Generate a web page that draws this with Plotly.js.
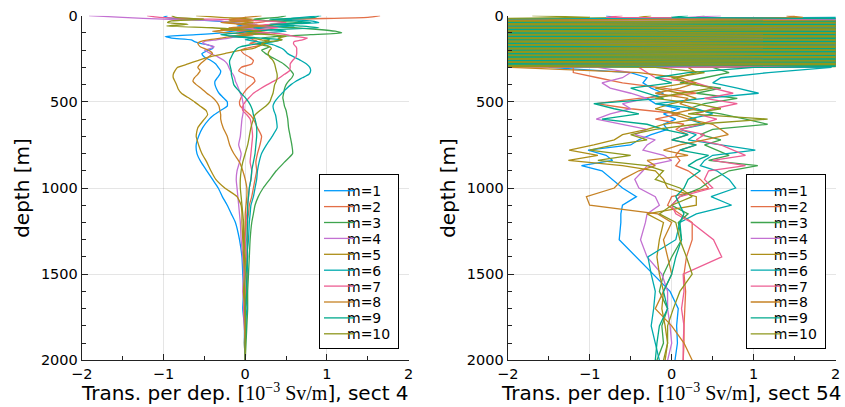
<!DOCTYPE html>
<html><head><meta charset="utf-8">
<script src="https://cdn.plot.ly/plotly-3.0.1.min.js"></script>
<style>html,body{margin:0;padding:0;background:#fff}</style>
</head><body>
<div id="chart" style="width:845px;height:407px"></div>
<script>
const seriesNames = ['m=1','m=2','m=3','m=4','m=5','m=6','m=7','m=8','m=9','m=10'];
const colors = ['#009AFA','#E36F47','#3EA44E','#C371D2','#AC8E18','#00AAAE','#ED5E93','#C68225','#00A98D','#8E971D'];
const xTickVals = [-2,-1,0,1,2];
const yTickVals = [0,500,1000,1500,2000];

// ---- section 4 (left panel) ----
const leftDepth = [0,10,20,30,40,50,60,70,80,90,100,110,120,130,140,150,160,170,180,190,200,
  220,240,260,280,300,320,340,360,380,400,
  425,450,475,500,525,550,575,600,
  650,700,750,800,850,900,950,1000,1050,1100,1150,1200,
  1300,1400,1500,1600,1700,1800,1900,2000];
const left_m1 = [-0.95,-1.0,-0.7,-0.4,-0.15,0.05,-0.1,0.2,0.05,-0.15,-0.3,-0.6,-0.98,-0.9,-0.66,-0.62,-0.55,-0.45,-0.39,-0.4,-0.45, -0.53,-0.5,-0.42,-0.36,-0.33,-0.3,-0.31,-0.34,-0.37,-0.37, -0.35,-0.32,-0.27,-0.22,-0.22,-0.3,-0.38,-0.44, -0.52,-0.57,-0.6,-0.59,-0.54,-0.47,-0.4,-0.33,-0.28,-0.22,-0.17,-0.12, -0.07,-0.04,-0.03,-0.02,-0.03,-0.01,-0.01,0.0];
const left_m2 = [1.65,1.5,0.6,0.3,0.15,-0.1,0.35,0.2,-0.2,0.1,0.25,0.0,-0.2,0.05,0.1,0.15,0.05,0.2,0.1,0.0,-0.05, -0.02,0.05,0.1,0.08,-0.05,-0.08,0.0,0.1,0.12,0.08, 0.02,-0.02,-0.05,-0.07,-0.06,0.0,0.06,0.1, 0.15,0.2,0.18,0.15,0.13,0.14,0.12,0.1,0.08,0.05,0.04,0.02, 0.03,0.02,0.03,0.02,0.0,0.01,0.0,0.0];
const left_m3 = [0.5,0.4,0.1,0.3,0.7,0.5,0.2,0.6,0.9,1.1,1.18,0.8,0.4,0.2,0.3,0.25,0.15,0.2,0.3,0.25,0.2, 0.25,0.32,0.4,0.47,0.52,0.56,0.59,0.57,0.53,0.5, 0.48,0.47,0.46,0.47,0.48,0.5,0.51,0.52, 0.53,0.55,0.57,0.58,0.48,0.38,0.3,0.22,0.16,0.12,0.1,0.08, 0.06,0.05,0.04,0.03,0.03,0.02,0.01,0.0];
const left_m4 = [-1.91,-1.5,-1.0,-0.3,-0.2,0.15,0.0,-0.1,0.2,0.05,-0.05,0.1,-0.1,-0.2,-0.35,-0.5,-0.52,-0.45,-0.38,-0.42,-0.5, -0.42,-0.33,-0.26,-0.22,-0.2,-0.18,-0.15,-0.13,-0.12,-0.1, -0.08,-0.06,-0.04,-0.03,-0.02,-0.02,-0.03,-0.04, -0.05,-0.06,-0.08,-0.05,-0.07,-0.1,-0.11,-0.1,-0.09,-0.08,-0.07,-0.06, -0.05,-0.03,-0.02,-0.03,-0.01,-0.01,0.0,0.0];
const left_m5 = [-0.6,-0.3,0.1,-0.2,0.1,-0.1,0.2,0.0,-0.3,0.1,0.3,0.05,-0.1,0.1,0.2,0.3,0.25,0.2,0.15,0.1,-0.05, -0.25,-0.45,-0.58,-0.7,-0.83,-0.86,-0.88,-0.88,-0.86,-0.84, -0.82,-0.78,-0.7,-0.62,-0.55,-0.48,-0.46,-0.5, -0.58,-0.6,-0.57,-0.53,-0.47,-0.42,-0.36,-0.25,-0.1,-0.05,-0.04,-0.04, -0.03,-0.02,-0.01,-0.02,-0.01,0.0,-0.01,0.0];
const left_m6 = [0.93,0.7,0.5,0.8,0.9,0.4,0.6,0.1,0.3,0.5,0.2,0.0,-0.2,0.1,0.0,0.15,0.25,0.35,0.4,0.45,0.48, 0.52,0.6,0.68,0.75,0.79,0.8,0.78,0.7,0.62,0.56, 0.5,0.45,0.4,0.36,0.34,0.35,0.37,0.38, 0.39,0.33,0.26,0.2,0.17,0.15,0.14,0.12,0.1,0.07,0.06,0.05, 0.04,0.02,0.03,0.01,0.02,0.0,0.0,0.0];
const left_m7 = [-1.2,-1.05,-0.4,0.2,0.5,0.3,0.1,0.4,0.2,-0.1,0.3,0.5,0.6,0.76,0.7,0.6,0.59,0.6,0.62,0.63,0.63, 0.63,0.62,0.58,0.55,0.55,0.54,0.48,0.42,0.35,0.27, 0.18,0.1,0.05,0.0,-0.03,-0.03,0.02,0.06, 0.08,0.09,0.08,0.07,0.06,0.08,0.07,0.05,0.04,0.03,0.02,0.01, 0.0,0.01,-0.01,0.0,-0.02,-0.01,0.0,0.0];
const left_m8 = [0.2,0.0,-0.2,0.1,-0.3,-0.05,0.25,-0.2,-0.1,-0.4,-0.2,0.1,-0.15,-0.3,-0.45,-0.55,-0.58,-0.57,-0.55,-0.5,-0.45, -0.4,-0.45,-0.5,-0.55,-0.58,-0.55,-0.58,-0.62,-0.64,-0.6, -0.53,-0.47,-0.4,-0.35,-0.32,-0.31,-0.3,-0.3, -0.27,-0.22,-0.19,-0.14,-0.07,-0.03,0.0,0.02,0.02,0.01,0.0,0.0, -0.01,0.0,0.02,0.01,0.0,0.0,0.0,0.0];
const left_m9 = [0.9,0.85,0.3,0.6,0.8,0.3,0.7,0.9,0.4,0.1,-0.1,-0.3,-0.1,0.2,0.45,0.35,0.2,0.05,-0.05,-0.1,-0.12, -0.15,-0.17,-0.19,-0.19,-0.18,-0.17,-0.17,-0.16,-0.15,-0.14, -0.1,-0.05,0.0,0.04,0.07,0.09,0.1,0.12, 0.14,0.14,0.13,0.12,0.1,0.08,0.07,0.05,0.04,0.03,0.03,0.03, 0.02,0.03,0.01,0.02,0.0,0.01,0.0,0.0];
const left_m10 = [-0.9,-0.85,-0.5,-0.9,-0.95,-0.7,-0.96,-0.4,-0.1,0.2,0.0,0.3,0.5,0.4,0.45,0.3,0.2,0.25,0.3,0.32,0.3, 0.28,0.3,0.34,0.36,0.37,0.38,0.39,0.39,0.38,0.36, 0.35,0.34,0.32,0.3,0.25,0.18,0.12,0.1, 0.07,0.05,0.03,0.0,-0.03,-0.05,-0.06,-0.06,-0.05,-0.04,-0.03,-0.02, -0.02,-0.01,0.0,-0.01,0.0,0.0,0.0,0.0];

// ---- section 54 (right panel) ----
const rightDepth = [0,10,20,30,40,50,60,70,80,90,100,110,120,130,140,150,160,170,180,190,200,210,220,230,240,250,260,270,280,290,300,
  330,360,390,420,450,480,510,540,570,600,630,660,690,720,750,780,810,840,870,900,
  950,1000,1050,1100,1150,1200,
  1300,1400,1500,1600,1700,1800,1900,2000];
const right_m1 = [-0.8,-0.7,1.2, 3.2,-2.9,4.1,-3.6,2.7,-4.4,3.8,-2.5,4.6,-3.1,2.9,-3.9,4.3,-2.7,3.5,-4.8,2.6,-3.3,4.0,-2.8,3.7,-4.2,2.5,-3.5,4.4,-2.6,3.0, -1.5, -0.5,-0.3,-0.35,-0.25,-0.1,-0.3,-0.2,0.1,-0.1,0.05,-0.1,-0.05,-0.25,-0.4,-0.5,-1.02,-0.8,-0.72,-1.1,-0.85, -0.73,-0.6,-0.43,-0.6,-0.62,-0.62, -0.64,-0.43,-0.22,-0.02,0.08,0.06,0.07,0.04];
const right_m2 = [1.5,1.4,-1.0, -2.7,3.9,-4.3,2.8,-3.2,4.5,-2.6,3.4,-4.1,2.9,-3.8,4.2,-2.5,3.6,-4.6,2.7,-3.0,4.4,-3.7,2.6,-4.0,3.3,-2.8,4.7,-3.4,2.5,-3.9, -1.2, -1.2,-0.9,-0.6,-0.1,0.3,-0.4,-0.92,-0.5,0.1,-0.2,0.15,0.05,0.2,0.0,0.3,0.1,0.05,0.1,0.05,0.2, 0.35,0.45,0.0,-0.05,0.1,0.25, 0.25,0.18,0.15,0.17,0.16,0.15,0.15,0.14];
const right_m3 = [0.4,0.3,-2.5, 4.4,-3.3,2.6,-4.0,3.5,-2.8,4.8,-3.6,2.7,-4.5,3.1,-2.6,3.9,-4.2,2.8,-3.4,4.1,-2.5,3.6,-4.7,2.9,-3.0,4.3,-2.7,3.8,-4.1,2.6, 0.5, 0.7,0.4,0.1,0.6,0.3,0.8,0.4,0.2,0.6,0.9,1.17,0.5,0.35,0.6,0.4,0.55,0.7,0.45,1.05,0.7, 0.5,0.35,0.1,0.0,0.2,0.08, 0.12,0.0,-0.1,-0.15,-0.05,-0.12,-0.1,-0.18];
const right_m4 = [0.6,0.2,2.5, -3.8,2.5,-3.1,4.6,-2.9,3.7,-4.2,2.6,-3.5,4.0,-2.7,3.3,-4.9,2.8,-3.6,4.1,-2.5,3.9,-3.0,4.5,-2.6,3.2,-4.3,2.9,-3.7,4.2,-2.8, -0.9, -0.5,-0.6,-0.85,-0.75,-0.5,-0.3,-0.6,-0.5,-0.75,-0.92,-0.6,-0.3,-0.45,-0.2,-0.3,-0.35,-0.1,0.0,-0.3,-0.35, -0.45,-0.4,-0.2,-0.15,-0.3,-0.32, -0.38,-0.3,-0.12,-0.05,-0.05,-0.02,0.0,-0.05];
const right_m5 = [-0.25,-0.4,-1.5, 2.6,-4.1,3.6,-2.7,4.3,-3.4,2.8,-4.6,3.1,-2.6,4.7,-3.2,2.5,-3.9,4.0,-2.9,3.5,-4.3,2.7,-3.6,4.4,-2.5,3.8,-4.0,2.6,-3.1,4.1, 0.2, 0.3,0.05,0.2,-0.2,0.1,0.3,0.0,-0.2,0.1,0.3,-0.1,-0.3,-0.6,-0.7,-0.95,-1.25,-0.9,-1.26,-0.6,-0.2, -0.1,-0.05,0.3,0.3,-0.3,-0.1, -0.15,-0.18,-0.15,-0.1,-0.12,-0.08,-0.05,-0.08];
const right_m6 = [2.1,2.2,-3.0, -4.5,3.0,-2.6,3.8,-4.1,2.7,-3.3,4.4,-2.8,3.6,-4.2,2.5,-3.7,4.8,-2.6,3.1,-4.4,2.9,-3.5,4.2,-2.7,3.9,-3.2,2.6,-4.6,3.4,-2.5, 1.95, 1.18,0.6,0.5,0.8,1.06,0.4,-0.2,0.3,0.5,0.2,0.4,0.1,0.3,0.2,0.6,1.02,0.5,0.4,0.35,0.55, 0.7,0.78,0.48,0.73,0.3,0.1, 0.05,-0.29,-0.25,-0.2,-0.22,-0.25,-0.2,-0.15];
const right_m7 = [-0.6,-0.8,3.0, 3.7,-2.6,4.5,-3.0,2.8,-3.9,4.2,-2.7,3.3,-4.4,2.6,-3.6,4.1,-2.9,3.8,-2.5,4.6,-3.4,2.7,-4.1,3.5,-2.8,4.0,-3.3,2.9,-4.5,3.6, -0.4, -0.3,-0.2,0.3,0.5,0.75,0.4,0.8,0.5,0.3,0.55,0.35,0.1,0.4,0.3,0.6,0.75,0.9,0.5,0.9,0.45, 0.4,0.5,0.1,0.0,0.05,0.24, 0.51,0.61,0.14,0.15,0.12,0.15,0.14,0.14];
const right_m8 = [1.4,1.6,0.5, -2.9,4.2,-3.5,2.6,-4.7,3.1,-2.8,4.0,-3.6,2.7,-3.0,4.6,-2.6,3.3,-4.0,2.8,-3.8,4.3,-2.5,3.4,-4.5,2.7,-3.1,4.1,-2.9,3.7,-4.2, -1.96, -0.4,0.1,0.3,0.1,-0.2,0.2,0.1,0.3,0.0,0.2,0.5,0.6,0.69,0.4,0.1,-0.1,0.2,-0.3,-0.2,-0.4, -0.6,-0.7,-1.04,-1.0,-0.17,0.0, -0.1,-0.05,0.0,-0.1,-0.2,0.0,0.15,0.25];
const right_m9 = [0.2,0.0,2.8, 4.0,-3.7,2.9,-2.6,4.4,-3.1,2.6,-4.3,3.7,-2.8,4.1,-2.5,3.4,-4.6,2.7,-3.5,4.2,-2.9,3.0,-4.0,2.8,-3.8,4.6,-2.6,3.2,-4.4,2.7, 1.0, 0.2,-0.2,0.0,-0.5,-0.3,-0.1,-0.95,-0.7,-0.4,-0.85,-0.3,-0.1,0.2,0.0,0.3,0.1,0.45,0.3,0.2,0.35, 0.2,0.15,0.05,0.1,0.15,0.1, 0.12,0.05,0.0,-0.1,-0.05,-0.15,-0.18,-0.2];
const right_m10 = [-1.7,-1.0,-2.8, -3.3,2.7,-4.6,3.5,-2.5,4.1,-3.8,2.9,-2.7,4.3,-3.4,2.6,-4.0,3.1,-2.8,4.5,-3.2,2.5,-4.2,3.8,-2.6,4.0,-3.6,2.8,-3.0,4.7,-2.9, -0.2, 0.4,0.0,0.2,0.5,0.1,-0.2,0.3,0.6,0.2,1.17,0.3,-0.2,-0.5,-0.3,-0.7,-1.0,-0.5,-0.9,-0.3,-0.1, -0.2,0.1,0.25,0.0,-0.15,0.05, 0.1,0.18,0.25,0.1,0.02,-0.05,-0.05,-0.1];

const leftSeries = [left_m1,left_m2,left_m3,left_m4,left_m5,left_m6,left_m7,left_m8,left_m9,left_m10];
const rightSeries = [right_m1,right_m2,right_m3,right_m4,right_m5,right_m6,right_m7,right_m8,right_m9,right_m10];

const traces = [];
leftSeries.forEach((vals, i) => traces.push({
  type: 'scatter', mode: 'lines', x: vals, y: leftDepth, name: seriesNames[i],
  line: {color: colors[i], width: 1.3, shape: 'spline', smoothing: 0.5},
  xaxis: 'x', yaxis: 'y', legend: 'legend'
}));
rightSeries.forEach((vals, i) => traces.push({
  type: 'scatter', mode: 'lines', x: vals, y: rightDepth, name: seriesNames[i],
  line: {color: colors[i], width: 1.3},
  xaxis: 'x2', yaxis: 'y2', legend: 'legend2'
}));

const FONT = 'DejaVu Sans, sans-serif';
const axisBase = {
  showline: true, linecolor: '#222', linewidth: 1,
  ticks: 'inside', ticklen: 6, tickcolor: '#222', tickwidth: 1,
  showgrid: true, gridcolor: 'rgba(0,0,0,0.1)', gridwidth: 1,
  zeroline: false, mirror: false,
  tickfont: {family: FONT, size: 14.5, color: '#000'}
};
const mathPart = '<span style="font-family:Liberation Serif, serif">10<sup>−3</sup> Sv/m</span>';
function xAxis(domain, anchor, sect) {
  return Object.assign({}, axisBase, {
    domain: domain, anchor: anchor, range: [-2, 2], tickmode: 'array', tickvals: xTickVals,
    minor: {tick0: 0, dtick: 0.5, ticks: 'inside', ticklen: 4, tickcolor: '#222', showgrid: false},
    title: {text: 'Trans. per dep. [' + mathPart + '], sect ' + sect, font: {family: FONT, size: 20, color: '#000'}}
  });
}
function yAxis(domain, anchor) {
  return Object.assign({}, axisBase, {
    domain: domain, anchor: anchor, range: [2000, 0], tickmode: 'array', tickvals: yTickVals,
    minor: {tick0: 0, dtick: 100, ticks: 'inside', ticklen: 4, tickcolor: '#222', showgrid: false},
    title: {text: 'depth [m]', font: {family: FONT, size: 20, color: '#000'}}
  });
}
const legendBase = {
  xanchor: 'left', yanchor: 'top', y: 1 - 174 / 407,
  bgcolor: '#fff', bordercolor: '#000', borderwidth: 1,
  font: {family: FONT, size: 14, color: '#000'}, itemwidth: 30
};
const yDom = [0.1147, 0.9614];
const layout = {
  width: 845, height: 407,
  margin: {l: 0, r: 0, t: 0, b: 0},
  paper_bgcolor: '#fff', plot_bgcolor: '#fff',
  font: {family: FONT, color: '#000'},
  xaxis: xAxis([0.0967, 0.4837], 'y', '4'),
  yaxis: yAxis(yDom, 'x'),
  xaxis2: xAxis([0.6008, 0.9890], 'y2', '54'),
  yaxis2: yAxis(yDom, 'x2'),
  legend: Object.assign({}, legendBase, {x: 319 / 845}),
  legend2: Object.assign({}, legendBase, {x: 745.7 / 845})
};

function nudge(el, dx, dy) {
  if (!el) return;
  if (!el.hasAttribute('data-orig-transform')) el.setAttribute('data-orig-transform', el.getAttribute('transform') || '');
  el.setAttribute('transform', (el.getAttribute('data-orig-transform') + ' translate(' + dx + ',' + dy + ')').trim());
}

// compact the legend entries (Plotly's minimum entry height is taller than the reference's)
// and nudge the axis titles to the reference's spacing
function finishLayout() {
  const gd = document.getElementById('chart');
  const ITEM_TOP = 16.7, ITEM_STEP = 15.9, BOX_H = 175, TEXT_X = 28;
  ['legend', 'legend2'].forEach(id => {
    const leg = gd.querySelector('g.' + id);
    if (!leg) return;
    const items = leg.querySelectorAll('g.traces');
    let maxRight = 0;
    items.forEach((it, i) => {
      it.setAttribute('transform', 'translate(0,' + (ITEM_TOP + i * ITEM_STEP) + ')');
      const pts = it.querySelector('g.legendpoints');
      if (pts) pts.setAttribute('transform', 'translate(0.7,0) scale(0.667,1)');
      const t = it.querySelector('text');
      if (t) {
        t.removeAttribute('transform');
        const bb = t.getBBox();
        t.setAttribute('transform', 'translate(' + (TEXT_X - bb.x) + ',0)');
        maxRight = Math.max(maxRight, TEXT_X + bb.width);
      }
      const toggle = it.querySelector('rect.legendtoggle');
      if (toggle) { toggle.setAttribute('height', ITEM_STEP); toggle.setAttribute('y', -ITEM_STEP / 2); }
    });
    const bg = leg.querySelector('rect.bg');
    if (bg) {
      bg.setAttribute('height', BOX_H - 1);
      if (maxRight > 0) bg.setAttribute('width', Math.round(maxRight + 8));
    }
  });
  ['g-xtitle', 'g-x2title'].forEach(c => nudge(gd.querySelector('g.' + c), 0, -2));
  ['g-ytitle', 'g-y2title'].forEach(c => nudge(gd.querySelector('g.' + c), -3, 0));
}

Plotly.newPlot('chart', traces, layout, {displayModeBar: false, staticPlot: true}).then(() => {
  finishLayout();
  setTimeout(finishLayout, 50);
});
</script>
</body></html>
